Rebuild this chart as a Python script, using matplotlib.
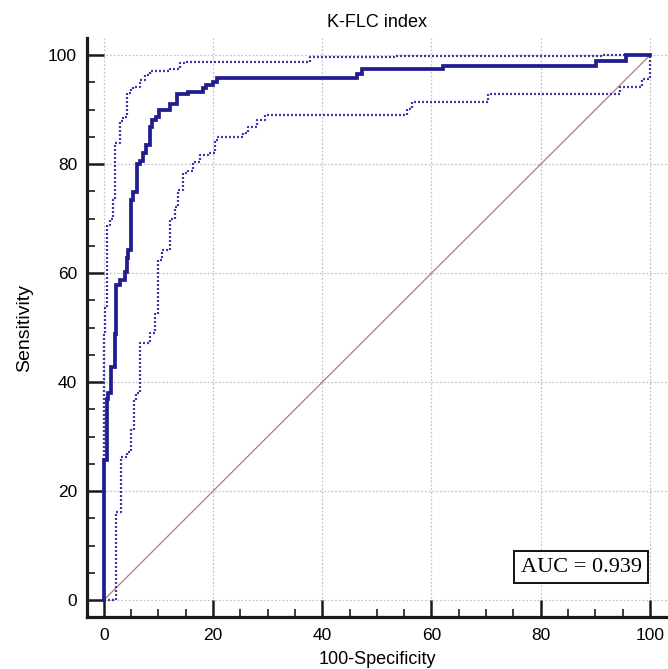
import matplotlib
matplotlib.use("Agg")
import matplotlib.pyplot as plt
from matplotlib.ticker import MultipleLocator

title = "K-FLC index"
xlabel = "100-Specificity"
ylabel = "Sensitivity"
auc_text = "AUC = 0.939"

# ROC curve corners (steps-post: horizontal then vertical)
roc_x = [0, 0, 0.5, 0.8, 1.4, 2.0, 2.3, 2.9, 3.8, 4.2, 4.5, 4.9, 5.4, 6.0, 6.6, 7.2, 7.7,
         8.4, 8.9, 9.6, 10.2, 12.1, 13.4, 15.5, 18.2, 18.8, 20.0, 20.7, 46.3, 47.2, 62.1,
         90.2, 95.7, 100]
roc_y = [0, 25.7, 37.0, 38.0, 42.8, 48.9, 57.8, 58.7, 60.2, 62.7, 64.2, 73.4, 74.9, 80.1,
         80.5, 82.0, 83.5, 86.9, 88.1, 88.6, 90.0, 91.0, 92.8, 93.2, 93.9, 94.6, 95.0, 95.8,
         96.6, 97.4, 98.1, 99.0, 100, 100]

upper_x = [0, 0, 0.3, 0.5, 1.1, 1.7, 2.0, 2.9, 3.5, 4.2, 4.9, 5.4, 6.6, 7.5, 8.4, 12.1,
           13.9, 15.0, 37.7, 53.3, 91.4, 100]
upper_y = [0, 49.2, 53.8, 68.8, 70.0, 73.4, 83.8, 88.0, 88.6, 93.0, 93.8, 94.2, 95.4, 96.3,
           97.1, 97.5, 98.5, 98.8, 99.6, 99.8, 100, 100]

lower_x = [0, 2.3, 3.2, 4.2, 5.0, 5.6, 5.9, 6.6, 8.4, 9.3, 10.0, 10.6, 12.1, 13.0, 13.5,
           14.5, 15.4, 16.4, 17.6, 19.1, 20.3, 21.0, 25.5, 26.4, 28.0, 29.5, 55.6, 56.4,
           70.4, 94.5, 98.5, 100]
lower_y = [0, 16.2, 26.3, 27.2, 31.2, 36.7, 38.0, 47.1, 49.0, 52.6, 62.4, 64.2, 70.0, 72.2,
           75.2, 78.3, 78.8, 80.4, 81.7, 82.0, 84.5, 85.0, 85.7, 86.9, 88.2, 89.0, 90.2,
           91.4, 92.8, 94.2, 95.7, 100]

diag_x = [0, 100]
diag_y = [0, 100]
major_ticks = [0, 20, 40, 60, 80, 100]

plt.rcParams['font.family'] = ['Liberation Sans', 'DejaVu Sans']

fig = plt.figure(figsize=(6.68, 6.69), dpi=100)
ax = fig.add_axes([0.130, 0.0777, 0.87, 0.865])
ax.set_xlim(-3.1, 103.3)
ax.set_ylim(-3.1, 103.1)

grid_c = "#c4c4c4"
for t in major_ticks:
    ax.axvline(t, color=grid_c, lw=0.9, ls=(0, (1.5, 1.5)), zorder=1)
    ax.axhline(t, color=grid_c, lw=0.9, ls=(0, (1.5, 1.5)), zorder=1)

ax.plot(diag_x, diag_y, color="#b07a7a", lw=0.9, zorder=2)
curve_c = "#221d8e"
ci_c = "#3a37a6"
ax.plot(upper_x, upper_y, drawstyle="steps-post", color=ci_c, lw=1.6, ls=(0, (0.9, 0.9)), zorder=3)
ax.plot(lower_x, lower_y, drawstyle="steps-post", color=ci_c, lw=1.6, ls=(0, (0.9, 0.9)), zorder=3)
ax.plot(roc_x, roc_y, drawstyle="steps-post", color=curve_c, lw=2.7, zorder=4,
        solid_joinstyle="miter")

for s in ["top", "right"]:
    ax.spines[s].set_visible(False)
for s in ["left", "bottom"]:
    ax.spines[s].set_linewidth(2.3)
    ax.spines[s].set_color("#1a1a1a")

ax.xaxis.set_major_locator(MultipleLocator(20))
ax.yaxis.set_major_locator(MultipleLocator(20))
ax.xaxis.set_minor_locator(MultipleLocator(5))
ax.yaxis.set_minor_locator(MultipleLocator(5))
ax.tick_params(which="major", direction="in", length=12.5, width=1.8, color="#1a1a1a",
               labelsize=12.5, pad=8)
ax.tick_params(which="minor", direction="in", length=5.5, width=1.2, color="#1a1a1a")
ax.tick_params(axis="y", pad=7)

ax.set_title(title, fontsize=13, pad=8)
ax.set_xlabel(xlabel, fontsize=13, labelpad=6)
ax.set_ylabel(ylabel, fontsize=14, labelpad=11)

ax.text(87.4, 6.05, auc_text, fontsize=16, family=["Liberation Serif", "DejaVu Serif"],
        ha="center", va="center", zorder=6,
        bbox=dict(boxstyle="square,pad=0.3", fc="white", ec="#111111", lw=1.4))

fig.savefig("out.png", dpi=100)
